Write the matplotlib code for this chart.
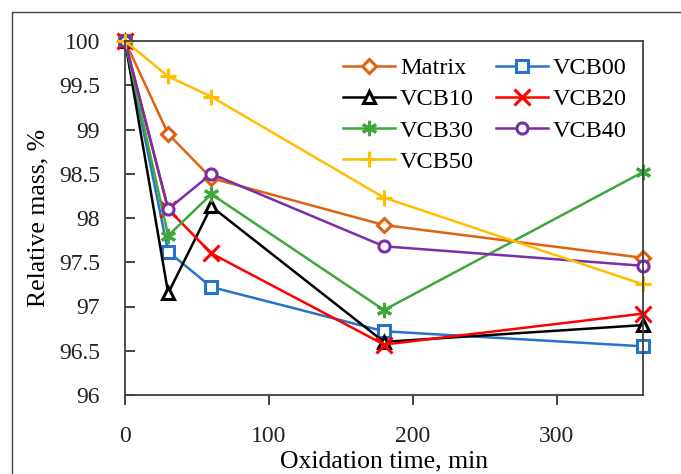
import matplotlib.pyplot as plt
from matplotlib.patches import Rectangle

plt.rcParams['font.family'] = ['Liberation Serif', 'DejaVu Serif']

# data
time = [0, 30, 60, 180, 360]
matrix = [100, 98.95, 98.45, 97.92, 97.55]
vcb00 = [100, 97.62, 97.22, 96.72, 96.55]
vcb10 = [100, 97.15, 98.13, 96.60, 96.79]
vcb20 = [100, 98.10, 97.60, 96.57, 96.92]
vcb30 = [100, 97.80, 98.27, 96.96, 98.52]
vcb40 = [100, 98.10, 98.50, 97.68, 97.46]
vcb50 = [100, 99.60, 99.37, 98.23, 97.25]

fig = plt.figure(figsize=(6.81, 4.74), dpi=100)
ax = fig.add_axes([125/681, 1-395/474, (643-125)/681, (395-41)/474])

# outer frame of the figure (cropped at right/bottom)
fig.patches.append(Rectangle((12/681, -0.1), 1.2, 1-12/474+0.1,
                             transform=fig.transFigure, fill=False,
                             edgecolor='#404040', lw=1.0, zorder=0))

lw = 1.8
series = [
    ('Matrix', matrix, '#E0620F', 'D', 'none'),
    ('VCB00', vcb00, '#2673CC', 's', 'none'),
    ('VCB10', vcb10, 'black', '^', 'none'),
    ('VCB20', vcb20, '#FF0000', 'x', None),
    ('VCB30', vcb30, '#3FA83A', (6, 2, 0), None),
    ('VCB40', vcb40, '#7A2EA8', 'o', 'none'),
    ('VCB50', vcb50, '#FFBF00', '+', None),
]
handles = {}
for name, vals, col, mk, mfc in series:
    kw = dict(color=col, lw=lw, marker=mk, mew=2.2, label=name,
              clip_on=False)
    if mfc == 'none':
        kw['mfc'] = 'white'
        kw['ms'] = 8 if mk != 'D' else 7
    else:
        kw['ms'] = 11
    h, = ax.plot(time, vals, **kw)
    handles[name] = h

order = ['Matrix', 'VCB10', 'VCB30', 'VCB50', 'VCB00', 'VCB20', 'VCB40']
ax.legend([handles[n] for n in order], order, ncol=2, loc='upper left',
          frameon=False, fontsize=17.5, handlelength=2.15, handletextpad=0.2,
          columnspacing=0.9, labelspacing=0.38, borderaxespad=0,
          borderpad=0, bbox_to_anchor=((343-125)/518, (395-57)/354))

ax.set_xlim(0, 360)
ax.set_ylim(96, 100)
ax.set_xticks([0, 100, 200, 300])
yt = [96 + 0.5*i for i in range(9)]
ax.set_yticks(yt)
ax.set_yticklabels(['%g' % v for v in yt])
ax.tick_params(axis='y', direction='in', length=7, width=1.2, labelsize=17,
               colors='#222222', pad=18)
ax.tick_params(axis='x', direction='out', length=7, width=1.2, labelsize=17,
               colors='#222222', pad=15)
for s in ax.spines.values():
    s.set_color('#404040')
    s.set_linewidth(1.3)

ax.set_xlabel('Oxidation time, min', fontsize=18.5, labelpad=3)
ax.set_ylabel('Relative mass, %', fontsize=18.5, labelpad=7)

fig.savefig('out.png', dpi=100)
